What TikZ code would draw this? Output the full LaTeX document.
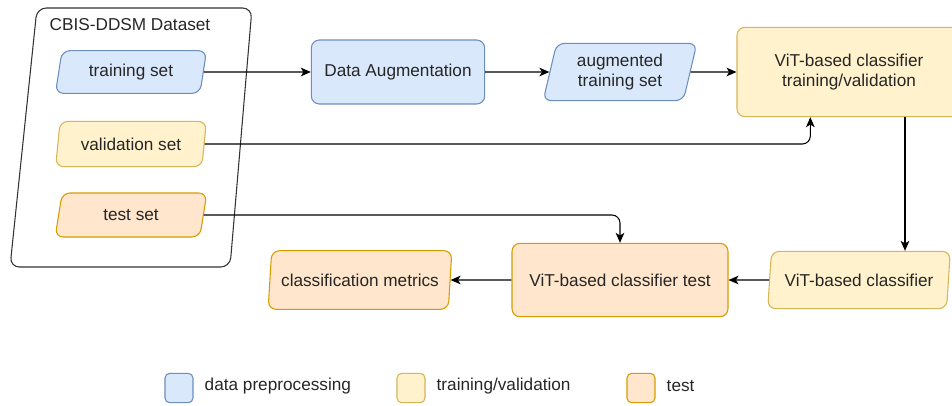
\documentclass[tikz,border=0pt]{standalone}
\usepackage{fontspec}
\setmainfont{Liberation Sans}
\usepackage{tikz}
\usetikzlibrary{arrows.meta}
\usetikzlibrary{shapes.geometric}

\definecolor{prefill}{HTML}{DAE8FC}
\definecolor{predraw}{HTML}{6C8EBF}
\definecolor{trainfill}{HTML}{FFF2CC}
\definecolor{traindraw}{HTML}{D6B656}
\definecolor{testfill}{HTML}{FFE6CC}
\definecolor{testdraw}{HTML}{D79B00}

\tikzset{
  txt/.style={text=black!85, font=\fontsize{12.9}{15.5}\selectfont},
  proc/.style={txt, draw, rounded corners=6pt, align=center, inner sep=0pt, line width=0.8pt},
  data/.style={txt, draw, trapezium, trapezium left angle=76, trapezium right angle=104,
    trapezium stretches=true, rounded corners=6pt, align=center, inner sep=0pt, line width=0.8pt},
  pre/.style={fill=prefill, draw=predraw},
  trn/.style={fill=trainfill, draw=traindraw},
  tst/.style={fill=testfill, draw=testdraw},
  arr/.style={-{Stealth[length=7.5pt,width=6.5pt,inset=2pt]}, line width=0.8pt, black},
  legbox/.style={draw, rounded corners=3.5pt, minimum width=21pt, minimum height=22pt, line width=0.8pt}
}

\begin{document}
\begin{tikzpicture}[x=0.75pt,y=-0.75pt]
\useasboundingbox (0,0) rectangle (952,405);
% dataset container
\draw[line width=0.8pt, black!80, rounded corners=7pt] (37,8) -- (252,8) -- (230,267) -- (10,267) -- cycle;
\node[txt] (dataset) at (130,25) {CBIS-DDSM Dataset};
% splits
\node[data, pre, minimum width=114pt, minimum height=32pt] (trainset) at (131,72) {training set};
\node[data, trn, minimum width=114pt, minimum height=34pt] (valset) at (131,144) {validation set};
\node[data, tst, minimum width=114pt, minimum height=33pt] (testset) at (131,215) {test set};
% top row
\node[proc, pre, minimum width=130pt, minimum height=48pt] (augment) at (398,72) {Data Augmentation};
\node[data, pre, minimum width=116pt, minimum height=43pt] (augset) at (620,72) {augmented\\training set};
\node[proc, trn, minimum width=168pt, minimum height=67pt] (vittrain) at (849,72) {ViT-based classifier\\training/validation};
% bottom row
\node[data, trn, minimum width=137pt, minimum height=43pt] (vitclf) at (859,280) {ViT-based classifier};
\node[proc, tst, minimum width=162pt, minimum height=55pt] (vittest) at (620,280) {ViT-based classifier test};
\node[data, tst, minimum width=138pt, minimum height=44pt] (metrics) at (360,280) {classification metrics};
% connectors
\draw[arr] (trainset.east) -- (augment.west);
\draw[arr] (augment.east) -- (augset.west);
\draw[arr] (augset.east) -- (vittrain.west);
\draw[arr, rounded corners=6pt] (valset.east) -| ([xshift=-29pt]vittrain.south);
\draw[arr, rounded corners=6pt] (testset.east) -| (vittest.north);
\draw[arr] ([xshift=42pt]vittrain.south) -- ([xshift=42pt]vittrain.south |- vitclf.north);
\draw[arr] (vitclf.west) -- (vittest.east);
\draw[arr] (vittest.west) -- (metrics.east);
% legend
\node[legbox, pre] (legpre) at (179,388) {};
\node[txt, anchor=west] (legpretext) at (200,386) {data preprocessing};
\node[legbox, trn] (legtrn) at (411,388) {};
\node[txt, anchor=west] (legtrntext) at (432,386) {training/validation};
\node[legbox, tst] (legtst) at (641,388) {};
\node[txt, anchor=west] (legtsttext) at (662,386) {test};
\end{tikzpicture}
\end{document}
